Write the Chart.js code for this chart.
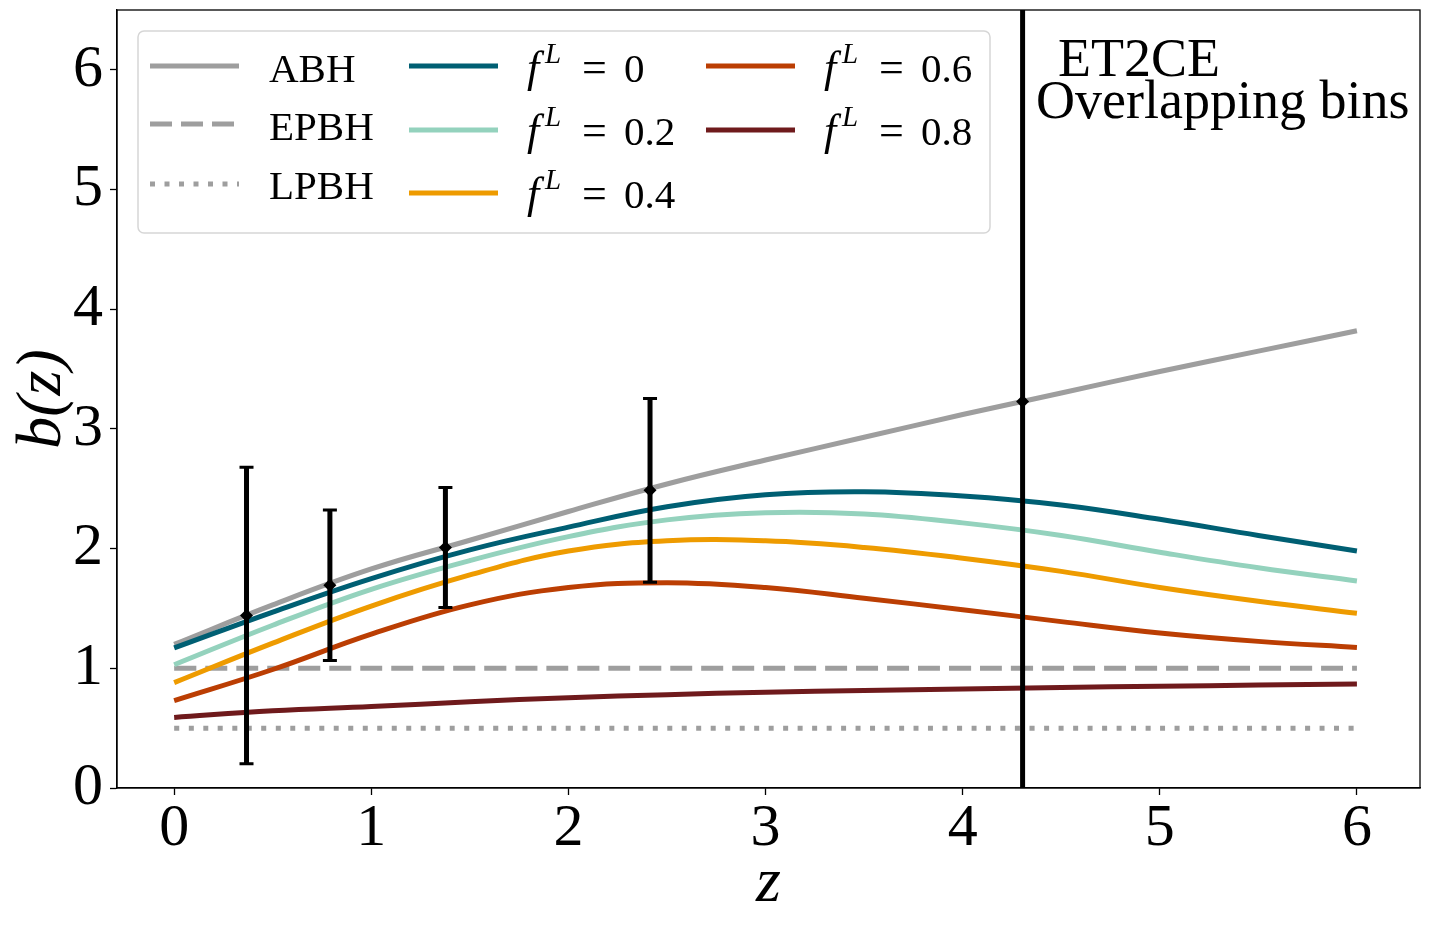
<!DOCTYPE html>
<html>
<head>
<meta charset="utf-8">
<script src="https://cdn.jsdelivr.net/npm/chart.js@4.4.1/dist/chart.umd.min.js"></script>
<style>
  html, body { margin: 0; padding: 0; background: #fff; }
  #wrap { width: 1430px; height: 929px; }
</style>
</head>
<body>
<div id="wrap"><canvas id="biasChart"></canvas></div>
<script>
// redshift grid the model curves are read at
const zGrid = [0, 0.5, 1, 1.5, 2, 2.5, 3, 3.5, 4, 4.5, 5, 5.5, 6];
const abh  = [1.20, 1.53, 1.83, 2.07, 2.31, 2.54, 2.74, 2.93, 3.12, 3.30, 3.48, 3.65, 3.82];
const fL00 = [1.17, 1.47, 1.75, 1.99, 2.18, 2.35, 2.45, 2.475, 2.44, 2.365, 2.245, 2.11, 1.98];
const fL02 = [1.03, 1.36, 1.66, 1.90, 2.10, 2.24, 2.30, 2.29, 2.215, 2.11, 1.97, 1.84, 1.73];
const fL04 = [0.88, 1.21, 1.52, 1.78, 1.98, 2.065, 2.065, 2.01, 1.92, 1.81, 1.675, 1.56, 1.46];
const fL06 = [0.73, 0.99, 1.285, 1.53, 1.675, 1.715, 1.675, 1.585, 1.49, 1.39, 1.295, 1.225, 1.174];
const fL08 = [0.59, 0.645, 0.68, 0.72, 0.755, 0.78, 0.80, 0.815, 0.828, 0.84, 0.85, 0.86, 0.868];

const flatZ = [0, 6];
const epbh = [1.0, 1.0];
const lpbh = [0.5, 0.5];

// ET2CE overlapping bins measurement
const binZ   = [0.367, 0.790, 1.376, 2.414, 4.304];
const binB   = [1.441, 1.694, 2.009, 2.487, 3.230];
const binErr = [1.238, 0.629, 0.501, 0.768, 9.0];

const fLValues = ['0', '0.2', '0.4', '0.6', '0.8'];
const xTicks = [0, 1, 2, 3, 4, 5, 6];
const yTicks = [0, 1, 2, 3, 4, 5, 6];

const SERIF = '"Liberation Serif", "DejaVu Serif", serif';

function pts(xs, ys) {
    return xs.map((x, i) => ({ x: x, y: ys[i] }));
}

function line(label, xs, ys, color, dash, order) {
    return {
        label: label,
        data: pts(xs, ys),
        borderColor: color,
        backgroundColor: color,
        borderWidth: 5,
        borderDash: dash,
        borderCapStyle: 'butt',
        pointRadius: 0,
        fill: false,
        tension: 0.4,
        showLine: true,
        order: order
    };
}

const datasets = [
    line('ABH', zGrid, abh, '#9e9e9e', [], 10),
    line('EPBH', flatZ, epbh, '#9e9e9e', [22, 9], 9),
    line('LPBH', flatZ, lpbh, '#9e9e9e', [5, 9.5], 8),
    line('fL0', zGrid, fL00, '#005f73', [], 7),
    line('fL0.2', zGrid, fL02, '#94d2bd', [], 6),
    line('fL0.4', zGrid, fL04, '#ee9b00', [], 5),
    line('fL0.6', zGrid, fL06, '#bb3e03', [], 4),
    line('fL0.8', zGrid, fL08, '#6f1a1c', [], 3),
    {
        label: 'bins',
        data: pts(binZ, binB),
        showLine: false,
        pointStyle: 'rectRot',
        pointRadius: 6.5,
        borderWidth: 0,
        backgroundColor: '#000',
        borderColor: '#000',
        order: 0
    }
];

// error bars for the binned points
const errorBars = {
    id: 'errorBars',
    afterDatasetsDraw(chart) {
        const { ctx, chartArea: ca, scales } = chart;
        ctx.save();
        ctx.beginPath();
        ctx.rect(ca.left, ca.top, ca.right - ca.left, ca.bottom - ca.top);
        ctx.clip();
        ctx.strokeStyle = '#000';
        binZ.forEach((z, i) => {
            const x = scales.x.getPixelForValue(z);
            const yTop = scales.y.getPixelForValue(binB[i] + binErr[i]);
            const yBot = scales.y.getPixelForValue(binB[i] - binErr[i]);
            ctx.lineWidth = 5;
            ctx.beginPath();
            ctx.moveTo(x, yTop);
            ctx.lineTo(x, yBot);
            ctx.stroke();
            ctx.lineWidth = 3;
            ctx.beginPath();
            ctx.moveTo(x - 7, yTop); ctx.lineTo(x + 7, yTop);
            ctx.moveTo(x - 7, yBot); ctx.lineTo(x + 7, yBot);
            ctx.stroke();
        });
        ctx.restore();
    }
};

function drawHandle(ctx, ds, x0, x1, y) {
    ctx.save();
    ctx.strokeStyle = ds.borderColor;
    ctx.lineWidth = ds.borderWidth;
    ctx.lineCap = 'butt';
    ctx.setLineDash(ds.borderDash || []);
    ctx.beginPath();
    ctx.moveTo(x0, y);
    ctx.lineTo(x1, y);
    ctx.stroke();
    ctx.restore();
}

function drawFLabel(ctx, x, y, val) {
    ctx.font = 'italic 44px ' + SERIF;
    ctx.fillText('f', x, y);
    ctx.font = 'italic 29px ' + SERIF;
    ctx.fillText('L', x + 18, y - 19);
    ctx.font = '44px ' + SERIF;
    ctx.fillText('=', x + 55, y);
    ctx.font = '41px ' + SERIF;
    ctx.fillText(val, x + 97, y);
}

// frame, legend and the ET2CE note
const decorations = {
    id: 'decorations',
    afterDraw(chart) {
        const { ctx, chartArea: ca } = chart;
        const ds = chart.data.datasets;
        ctx.save();
        ctx.strokeStyle = '#000';
        ctx.lineWidth = 1.3;
        ctx.strokeRect(ca.left, ca.top, ca.right - ca.left, ca.bottom - ca.top);

        // legend box
        const lx = ca.left + 21, ly = ca.top + 21, lw = 852, lh = 202, r = 6;
        ctx.beginPath();
        ctx.moveTo(lx + r, ly);
        ctx.arcTo(lx + lw, ly, lx + lw, ly + lh, r);
        ctx.arcTo(lx + lw, ly + lh, lx, ly + lh, r);
        ctx.arcTo(lx, ly + lh, lx, ly, r);
        ctx.arcTo(lx, ly, lx + lw, ly, r);
        ctx.closePath();
        ctx.fillStyle = 'rgba(255,255,255,0.85)';
        ctx.fill();
        ctx.strokeStyle = '#d6d6d6';
        ctx.lineWidth = 1.5;
        ctx.stroke();

        ctx.fillStyle = '#000';
        ctx.textAlign = 'left';
        ctx.textBaseline = 'alphabetic';
        const o = ca.left - 117, t = ca.top - 10;

        // column 1
        const c1y = [66, 124, 184], c1b = [82, 140, 199];
        [0, 1, 2].forEach((k, i) => {
            drawHandle(ctx, ds[k], o + 150, o + 239, t + c1y[i]);
            ctx.font = '41px ' + SERIF;
            ctx.fillText(ds[k].label, o + 269, t + c1b[i]);
        });
        // columns 2 and 3
        const cy = [66, 130, 193], cb = [82, 145, 208];
        [3, 4, 5, 6, 7].forEach((k, i) => {
            const col = i < 3 ? 0 : 1;
            const row = i < 3 ? i : i - 3;
            const hx = col === 0 ? 409 : 706;
            const tx = col === 0 ? 527 : 824;
            drawHandle(ctx, ds[k], o + hx, o + hx + 89, t + cy[row]);
            drawFLabel(ctx, o + tx, t + cb[row], fLValues[i]);
        });

        ctx.font = '54px ' + SERIF;
        ctx.fillText('ET2CE', o + 1058, t + 76);
        ctx.fillText('Overlapping bins', o + 1036, t + 118);
        ctx.restore();
    }
};

const ctx = document.getElementById('biasChart').getContext('2d');
const biasChart = new Chart(ctx, {
    type: 'scatter',
    data: { datasets: datasets },
    plugins: [errorBars, decorations],
    options: {
        responsive: true,
        maintainAspectRatio: false,
        animation: false,
        layout: { padding: { top: 10, right: 10, left: 0, bottom: 0 } },
        plugins: {
            legend: { display: false },
            tooltip: { enabled: false }
        },
        scales: {
            x: {
                type: 'linear',
                min: -0.29,
                max: 6.32,
                afterBuildTicks: (s) => { s.ticks = xTicks.map(v => ({ value: v })); },
                afterFit: (s) => { s.height = 141; s.paddingLeft = 0; s.paddingRight = 0; },
                grid: { drawOnChartArea: false, color: '#000', tickLength: 7, tickWidth: 1.3 },
                border: { color: '#000', width: 1.3 },
                ticks: { color: '#000', font: { family: SERIF, size: 60 }, padding: -2, maxRotation: 0 },
                title: {
                    display: true,
                    text: 'z',
                    color: '#000',
                    font: { family: SERIF, size: 64, style: 'italic' },
                    padding: { top: 0, bottom: 6 }
                }
            },
            y: {
                type: 'linear',
                min: 0,
                max: 6.5,
                afterBuildTicks: (s) => { s.ticks = yTicks.map(v => ({ value: v })); },
                afterFit: (s) => { s.width = 117; s.paddingTop = 0; s.paddingBottom = 0; },
                grid: { drawOnChartArea: false, color: '#000', tickLength: 7, tickWidth: 1.3 },
                border: { color: '#000', width: 1.3 },
                ticks: { color: '#000', font: { family: SERIF, size: 60 }, padding: 7 },
                title: {
                    display: true,
                    text: 'b(z)',
                    color: '#000',
                    font: { family: SERIF, size: 64, style: 'italic' },
                    padding: { top: 5, bottom: 0 }
                }
            }
        }
    }
});
</script>
</body>
</html>
